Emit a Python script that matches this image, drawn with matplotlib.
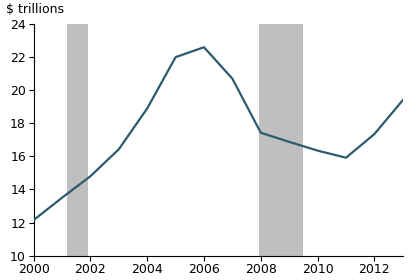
import matplotlib
matplotlib.use("Agg")
import matplotlib.pyplot as plt

# data
years = [2000, 2001, 2002, 2003, 2004, 2005, 2006, 2007, 2008, 2009, 2010, 2011, 2012, 2013]
values = [12.15, 13.5, 14.8, 16.43, 18.9, 22.0, 22.6, 20.7, 17.43, 16.88, 16.35, 15.92, 17.35, 19.4]
recessions = [(2001.18, 2001.92), (2007.92, 2009.5)]
xticks = [2000, 2002, 2004, 2006, 2008, 2010, 2012]
yticks = [10, 12, 14, 16, 18, 20, 22, 24]

plt.rcParams['font.family'] = ['DejaVu Sans']

fig = plt.figure(figsize=(4.2, 2.8), dpi=100)
ax = fig.add_axes([0.080, 0.087, 0.879, 0.827])

for start, end in recessions:
    ax.axvspan(start, end, color='#bfbfbf', lw=0, zorder=1)

ax.plot(years, values, color='#2b5b6e', lw=1.6, zorder=3)

ax.set_xlim(2000, 2013)
ax.set_ylim(10, 24)
ax.set_xticks(xticks)
ax.set_yticks(yticks)
for side in ['top', 'right']:
    ax.spines[side].set_visible(False)
ax.spines['left'].set_linewidth(0.8)
ax.spines['bottom'].set_linewidth(0.8)
ax.tick_params(direction='out', length=3.5, width=0.8, labelsize=9, pad=2)

fig.text(0.014, 0.99, r'\$ trillions', fontsize=9, va='top', ha='left')

fig.savefig('out.png', dpi=100)
